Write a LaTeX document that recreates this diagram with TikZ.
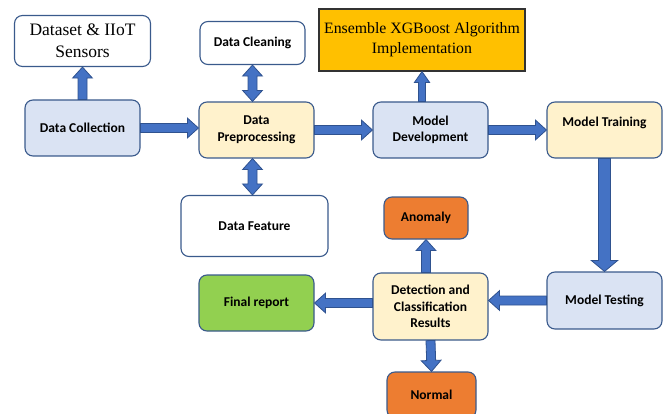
\documentclass[tikz,border=0pt]{standalone}
\usepackage{fontspec}
\setmainfont{Liberation Serif}
\newfontfamily\boxfont{Carlito}
\usetikzlibrary{calc}

\definecolor{paleblue}{HTML}{DAE3F3}
\definecolor{paleyellow}{HTML}{FFF2CC}
\definecolor{boxedge}{HTML}{3A5A8C}
\definecolor{arrowblue}{HTML}{4472C4}
\definecolor{arrowedge}{HTML}{2F528F}
\definecolor{gold}{HTML}{FFC000}
\definecolor{orangebox}{HTML}{ED7D31}
\definecolor{greenbox}{HTML}{92D050}

\tikzstyle{stage} = [rectangle, rounded corners = 8pt, minimum width = 115pt, minimum height = 56pt, text centered, align = center, draw = boxedge, line width = 1.1pt, font = \boxfont\bfseries\fontsize{13.5}{16.5}\selectfont]
\tikzstyle{bluebox} = [stage, fill = paleblue]
\tikzstyle{yellowbox} = [stage, fill = paleyellow]
\tikzstyle{plainbox} = [stage, fill = white]
\tikzstyle{orangebox} = [stage, fill = orangebox, minimum width = 84pt, minimum height = 42pt]
\tikzstyle{greenbox} = [stage, fill = greenbox]
\tikzstyle{serifbox} = [rectangle, text centered, align = center, font = \fontsize{17.5}{22}\selectfont]
\tikzstyle{arrowfill} = [fill = arrowblue, draw = arrowedge, line width = 0.8pt, line join = miter]

% filled block arrows, #1 = half width of the shaft
\tikzset{
  block arrow/.style = {arrowfill, to path = {
    let \p1 = (\tikztostart), \p2 = (\tikztotarget), \p3 = ($(\p2)!11pt!(\p1)$) in
    ($(\p1)!#1!90:(\p2)$) -- ($(\p3)!#1!90:(\p2)$) -- ($(\p3)!2.2*#1!90:(\p2)$) -- (\p2)
    -- ($(\p3)!2.2*#1!-90:(\p2)$) -- ($(\p3)!#1!-90:(\p2)$) -- ($(\p1)!#1!-90:(\p2)$) -- cycle}},
  block arrow/.default = 4.5pt,
  double block/.style = {arrowfill, to path = {
    let \p1 = (\tikztostart), \p2 = (\tikztotarget), \p3 = ($(\p2)!11pt!(\p1)$), \p4 = ($(\p1)!11pt!(\p2)$) in
    (\p1) -- ($(\p4)!2.2*#1!90:(\p2)$) -- ($(\p4)!#1!90:(\p2)$) -- ($(\p3)!#1!90:(\p2)$) -- ($(\p3)!2.2*#1!90:(\p2)$) -- (\p2)
    -- ($(\p3)!2.2*#1!-90:(\p2)$) -- ($(\p3)!#1!-90:(\p2)$) -- ($(\p4)!#1!-90:(\p2)$) -- ($(\p4)!2.2*#1!-90:(\p2)$) -- cycle}},
  double block/.default = 4.5pt
}

\begin{document}
\begin{tikzpicture}[node distance = 174pt]
	\useasboundingbox (0,0) rectangle (666pt,-414pt);

	\node[bluebox](collect) at (82.5pt,-128pt){Data Collection};
	\node[plainbox,serifbox,draw = boxedge,line width = 1.1pt,minimum width = 136pt,minimum height = 51pt,above of =collect,yshift = -87pt](dataset){Dataset \& IIoT\\Sensors};
	\node[yellowbox,right of =collect,yshift = -2pt](prep){Data\\Preprocessing};
	\node[plainbox,above of =prep,yshift = -87pt,xshift = -4pt,minimum width = 105pt,minimum height = 43pt](clean){Data Cleaning};
	\node[plainbox,below of =prep,yshift = 78pt,xshift = -2pt,minimum width = 147pt,minimum height = 61pt](feature){Data Feature};
	\node[bluebox,right of =prep](devel){Model\\Development};
	\node[serifbox,font = \fontsize{15.8}{20}\selectfont,fill = gold,draw = black!80,line width = 1.2pt,minimum width = 206pt,minimum height = 62pt,above of =devel,yshift = -84pt,xshift = -8.5pt](ensemble){Ensemble XGBoost Algorithm\\Implementation};
	\node[yellowbox,right of =devel](train){Model Training\\ \mbox{}};
	\node[bluebox,below of =train,yshift = 3.5pt,minimum height = 57pt](test){Model Testing};
	\node[yellowbox,left of =test,yshift = -6pt,minimum height = 67pt](detect){Detection and\\Classification\\Results};
	\node[orangebox,above of =detect,yshift = -85.5pt,xshift = -4.5pt](anomaly){Anomaly};
	\node[orangebox,below of =detect,yshift = 85.5pt,xshift = 1pt,minimum width = 89pt,minimum height = 46pt](normal){Normal};
	\node[greenbox,left of =detect,yshift = 3.5pt](report){Final report};

	\draw [block arrow](collect.north)to(collect.north |- dataset.south);
	\draw [block arrow](collect.east)to(prep.west |- collect.east);
	\draw [double block](clean.south)to(clean.south |- prep.north);
	\draw [double block](feature.north -| clean.south)to(clean.south |- prep.south);
	\draw [block arrow](prep.east)to(devel.west |- prep.east);
	\draw [block arrow = 3.5pt](ensemble.south |- devel.north)to(ensemble.south);
	\draw [block arrow](devel.east)to(train.west);
	\draw [block arrow = 6pt](train.south)to(test.north);
	\draw [block arrow](test.west)to(detect.east |- test.west);
	\draw [block arrow](detect.west |- report.east)to(report.east);
	\draw [block arrow](anomaly.south |- detect.north)to(anomaly.south);
	\draw [block arrow](detect.south)to(normal.north);

\end{tikzpicture}
\end{document}
